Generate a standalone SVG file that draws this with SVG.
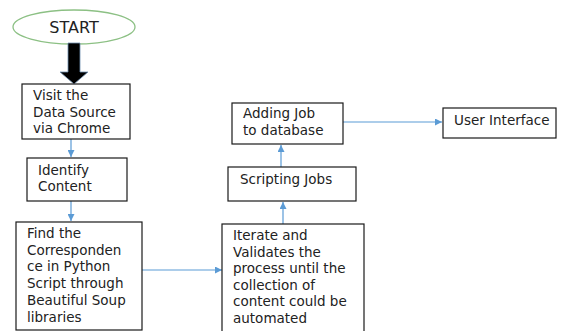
<svg xmlns="http://www.w3.org/2000/svg" width="562" height="331" viewBox="0 0 562 331">
<defs>
<style>
.box{fill:#fff;stroke:#1a1a1a;stroke-width:1.2}
.t{font-family:"DejaVu Sans",sans-serif;font-size:13.5px;fill:#222}
.c{fill:none;stroke:#5b9bd5;stroke-width:1.2}
</style>
<marker id="ah" viewBox="0 0 10 10" refX="10" refY="5" markerWidth="7" markerHeight="7" markerUnits="userSpaceOnUse" orient="auto">
<path d="M0,0 L10,5 L0,10 z" fill="#5b9bd5"/>
</marker>
</defs>
<rect width="562" height="331" fill="#fff"/>
<g id="start">
<ellipse cx="74" cy="27" rx="61" ry="17" fill="#fff" stroke="#8cc084" stroke-width="1.3"/>
<text class="t" x="74" y="33" text-anchor="middle" style="font-size:16px">START</text>
</g>
<g id="connectors">
<polygon points="68,43 80,43 80,72 88,72 74,84 60,72 68,72" fill="#000" stroke="#6f8fb0" stroke-width="0.8"/>
<line class="c" x1="71" y1="139" x2="71" y2="157" marker-end="url(#ah)"/>
<line class="c" x1="71" y1="201" x2="71" y2="221" marker-end="url(#ah)"/>
<line class="c" x1="142" y1="270" x2="222" y2="270" marker-end="url(#ah)"/>
<line class="c" x1="283" y1="224" x2="283" y2="202" marker-end="url(#ah)"/>
<line class="c" x1="281" y1="167" x2="281" y2="145" marker-end="url(#ah)"/>
<line class="c" x1="343" y1="122" x2="442" y2="122" marker-end="url(#ah)"/>
</g>
<g id="visit">
<rect class="box" x="22" y="84" width="108" height="55"/>
<text class="t" x="33" y="100">Visit the</text>
<text class="t" x="33" y="117">Data Source</text>
<text class="t" x="33" y="133">via Chrome</text>
</g>
<g id="identify">
<rect class="box" x="27" y="158" width="100" height="43"/>
<text class="t" x="38" y="175">Identify</text>
<text class="t" x="38" y="191">Content</text>
</g>
<g id="find">
<rect class="box" x="16" y="222" width="126" height="108"/>
<text class="t" x="27" y="238">Find the</text>
<text class="t" x="27" y="255">Corresponden</text>
<text class="t" x="27" y="271">ce in Python</text>
<text class="t" x="27" y="288">Script through</text>
<text class="t" x="27" y="305">Beautiful Soup</text>
<text class="t" x="27" y="322">libraries</text>
</g>
<g id="iterate">
<rect class="box" x="222" y="224" width="142" height="120"/>
<text class="t" x="233" y="240">Iterate and</text>
<text class="t" x="233" y="257">Validates the</text>
<text class="t" x="233" y="273">process until the</text>
<text class="t" x="233" y="290">collection of</text>
<text class="t" x="233" y="306">content could be</text>
<text class="t" x="233" y="323">automated</text>
</g>
<g id="scripting">
<rect class="box" x="228" y="167" width="128" height="34"/>
<text class="t" x="240" y="184">Scripting Jobs</text>
</g>
<g id="adding">
<rect class="box" x="232" y="103" width="111" height="41"/>
<text class="t" x="243" y="118">Adding Job</text>
<text class="t" x="243" y="135">to database</text>
</g>
<g id="ui">
<rect class="box" x="443" y="108" width="113" height="30"/>
<text class="t" x="454" y="125">User Interface</text>
</g>
</svg>
